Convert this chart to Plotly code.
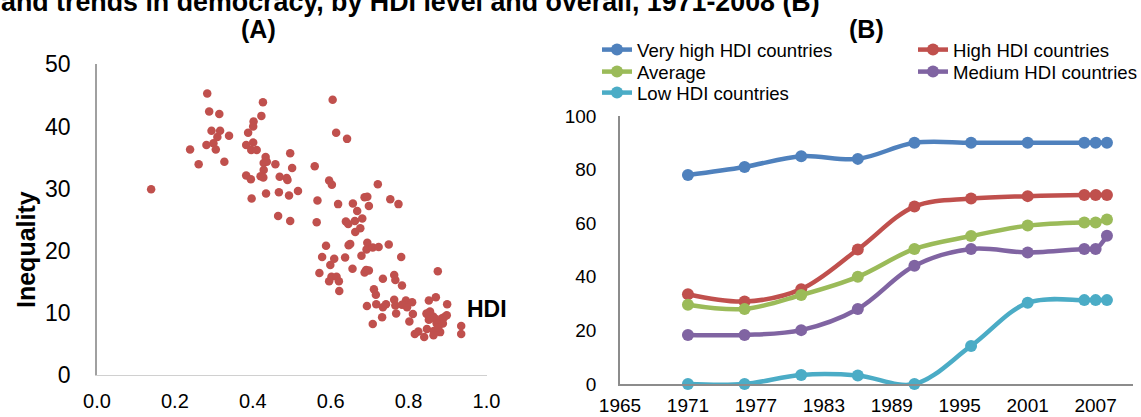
import plotly.graph_objects as go

W, H = 1141, 417

# ---- Panel A: inequality against HDI, one point per country ----
hdi = [
    0.283, 0.426, 0.288, 0.314, 0.422, 0.402, 0.401, 0.294, 0.316, 0.388,
    0.309, 0.339, 0.299, 0.281, 0.401, 0.383, 0.239, 0.305, 0.396, 0.410,
    0.496, 0.433, 0.327, 0.261, 0.428, 0.436, 0.458, 0.501, 0.428, 0.383,
    0.395, 0.420, 0.427, 0.469, 0.487, 0.489, 0.139, 0.516, 0.434, 0.467,
    0.493, 0.397, 0.465, 0.605, 0.614, 0.642, 0.559, 0.596, 0.603, 0.721,
    0.566, 0.619, 0.657, 0.687, 0.694, 0.698, 0.668, 0.753, 0.774, 0.496,
    0.564, 0.639, 0.645, 0.662, 0.681, 0.676, 0.663, 0.588, 0.650, 0.646,
    0.694, 0.692, 0.708, 0.723, 0.749, 0.578, 0.609, 0.637, 0.679, 0.781,
    0.599, 0.656, 0.691, 0.698, 0.687, 0.571, 0.602, 0.615, 0.596, 0.621,
    0.734, 0.763, 0.766, 0.783, 0.875, 0.622, 0.711, 0.716, 0.763, 0.793,
    0.809, 0.852, 0.870, 0.899, 0.693, 0.717, 0.734, 0.742, 0.766, 0.783,
    0.796, 0.768, 0.811, 0.732, 0.708, 0.802, 0.847, 0.855, 0.863, 0.852,
    0.872, 0.885, 0.891, 0.876, 0.888, 0.847, 0.865, 0.881, 0.825, 0.816,
    0.840, 0.864, 0.935, 0.935, 0.846, 0.868, 0.872, 0.876, 0.898,
]
inequality = [
    45.3, 43.9, 42.4, 42.0, 41.7, 40.8, 40.0, 39.3, 39.3, 39.0,
    38.3, 38.5, 37.3, 37.0, 37.4, 37.0, 36.3, 36.3, 36.2, 36.2,
    35.7, 35.1, 34.3, 33.9, 34.1, 34.3, 33.9, 33.3, 33.0, 32.1,
    31.5, 32.0, 31.8, 31.9, 31.7, 31.4, 29.9, 29.6, 29.2, 29.4,
    28.9, 28.4, 25.6, 44.3, 39.0, 38.0, 33.6, 31.3, 30.6, 30.7,
    28.1, 27.5, 27.6, 28.6, 28.7, 27.2, 26.4, 28.3, 27.5, 24.8,
    24.6, 24.7, 24.3, 24.8, 25.2, 23.6, 23.0, 20.8, 21.1, 20.9,
    21.3, 20.2, 20.5, 20.6, 21.0, 19.0, 18.7, 18.9, 19.2, 19.0,
    17.7, 17.1, 16.9, 16.8, 16.5, 16.4, 15.8, 15.8, 15.1, 15.1,
    15.5, 16.1, 15.3, 14.4, 16.7, 13.5, 13.8, 12.9, 12.1, 12.0,
    11.7, 12.0, 12.5, 11.4, 11.1, 11.4, 10.9, 11.4, 11.2, 11.3,
    10.9, 9.9, 9.8, 9.3, 8.2, 8.6, 9.8, 10.2, 9.4, 8.9,
    8.6, 9.1, 9.3, 7.9, 8.3, 7.4, 7.1, 6.9, 7.0, 6.6,
    6.1, 6.4, 7.9, 6.6, 9.9, 9.1, 8.3, 7.7, 9.6,
]
a_xticks = [0.0, 0.2, 0.4, 0.6, 0.8, 1.0]
a_yticks = [0, 10, 20, 30, 40, 50]

# ---- Panel B: democracy trends by HDI group ----
years = [1971, 1976, 1981, 1986, 1991, 1996, 2001, 2006, 2007, 2008]
very_high = [78, 81, 85, 84, 90, 90, 90, 90, 90, 90]
high = [33.5, 30.8, 35.4, 50.2, 66.2, 69.2, 70.1, 70.5, 70.5, 70.5]
average = [29.6, 28.0, 33.2, 40.0, 50.4, 55.2, 59.1, 60.3, 60.3, 61.4]
medium = [18.3, 18.3, 20.1, 28.0, 44.1, 50.4, 49.1, 50.4, 50.4, 55.3]
low = [0, 0, 3.4, 3.2, 0, 14.2, 30.3, 31.3, 31.3, 31.3]
b_xticks = [1965, 1971, 1977, 1983, 1989, 1995, 2001, 2007]
b_yticks = [0, 20, 40, 60, 80, 100]

# name, values, colour, legend id, legend column x (px), legend row y (px)
series = [
    ("Very high HDI countries", very_high, "#4F81BD", "legend", 597, 50),
    ("High HDI countries", high, "#C0504D", "legend2", 913, 50),
    ("Average", average, "#9BBB59", "legend3", 597, 72),
    ("Medium HDI countries", medium, "#8064A2", "legend4", 913, 72),
    ("Low HDI countries", low, "#4BACC6", "legend5", 597, 93),
]

FONT = "Arial, Liberation Sans, sans-serif"


def px_x(p):
    return p / W


def px_y(p):
    return 1 - p / H


fig = go.Figure()

fig.add_trace(go.Scatter(
    x=hdi, y=inequality, mode="markers",
    marker=dict(color="#C0504D", size=8.5, line=dict(width=0)),
    xaxis="x", yaxis="y", showlegend=False, cliponaxis=False,
))

legends = {}
for name, vals, color, leg, lx, ly in series:
    fig.add_trace(go.Scatter(
        x=years, y=vals, name=name, mode="lines+markers",
        line=dict(color=color, width=4.5, shape="spline", smoothing=1.0),
        marker=dict(color=color, size=12),
        xaxis="x2", yaxis="y2", legend=leg, cliponaxis=False,
    ))
    legends[leg] = dict(
        x=px_x(lx), y=px_y(ly), xanchor="left", yanchor="middle",
        orientation="v",
        font=dict(family=FONT, size=18.6, color="#000000"),
        bgcolor="rgba(0,0,0,0)", borderwidth=0,
        itemclick=False, itemdoubleclick=False,
    )

axis_common = dict(showgrid=False, zeroline=False, ticks="", showline=True)

fig.update_layout(
    width=W, height=H,
    margin=dict(l=0, r=0, t=0, b=0, autoexpand=False),
    paper_bgcolor="white", plot_bgcolor="white",
    font=dict(family=FONT, color="#000000"),
    xaxis=dict(
        domain=[px_x(97), px_x(486.5)], range=[0, 1.0],
        tickvals=a_xticks, ticktext=[f"{v:.1f}" for v in a_xticks],
        tickfont=dict(size=20), ticklabelstandoff=8,
        linecolor="#D0D0D0", linewidth=1, anchor="y", **axis_common,
    ),
    yaxis=dict(
        domain=[px_y(375), px_y(64.3)], range=[0, 50],
        tickvals=a_yticks, tickfont=dict(size=23), ticklabelstandoff=20,
        linecolor="#A0A0A0", linewidth=1.5, anchor="x", **axis_common,
    ),
    xaxis2=dict(
        domain=[px_x(620), px_x(1133)], range=[1965, 2010.3],
        tickvals=b_xticks, tickfont=dict(size=19), ticklabelstandoff=3,
        linecolor="#8C8C8C", linewidth=1.5, anchor="y2", **axis_common,
    ),
    yaxis2=dict(
        domain=[px_y(384), px_y(116)], range=[0, 100],
        tickvals=b_yticks, tickfont=dict(size=19), ticklabelstandoff=18,
        linecolor="#8C8C8C", linewidth=1.5, anchor="x2", **axis_common,
    ),
    **legends,
)

annotations = [
    dict(text="<b>and trends in democracy, by HDI level and overall, 1971-2008 (B)</b>",
         x=px_x(822), y=px_y(19), xanchor="right", yanchor="bottom",
         font=dict(size=26.8)),
    dict(text="<b>(A)</b>", x=px_x(258), y=px_y(29), xanchor="center", yanchor="middle",
         font=dict(size=25)),
    dict(text="<b>(B)</b>", x=px_x(866), y=px_y(29), xanchor="center", yanchor="middle",
         font=dict(size=25)),
    dict(text="<b>Inequality</b>", x=px_x(26), y=px_y(250), xanchor="center", yanchor="middle",
         textangle=-90, font=dict(size=25)),
]
for a in annotations:
    a.update(xref="paper", yref="paper", showarrow=False)
fig.update_layout(annotations=annotations)

fig.add_annotation(text="<b>HDI</b>", x=1.0, y=10.7, xref="x", yref="y",
                   xanchor="center", yanchor="middle", showarrow=False,
                   font=dict(size=23, family=FONT))

fig.write_html("out.html")
